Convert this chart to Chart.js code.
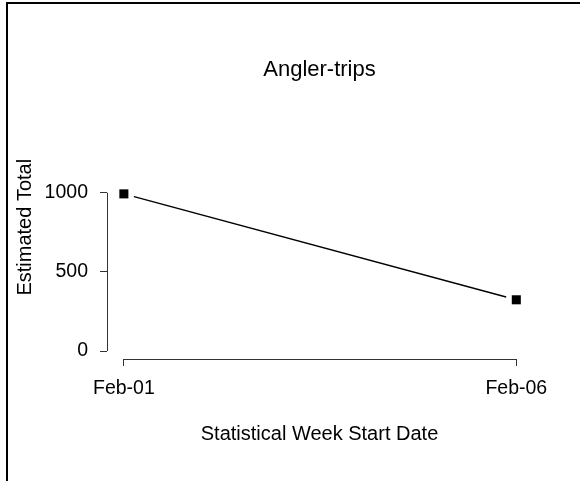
<!DOCTYPE html>
<html>
<head>
<meta charset="utf-8">
<script src="https://cdn.jsdelivr.net/npm/chart.js@4.4.1/dist/chart.umd.min.js"></script>
<style>
  body { margin: 0; background: #fff; }
  #wrap { position: relative; width: 580px; height: 481px; overflow: hidden; }
  #frame {
    position: absolute; left: 6px; top: 2px; width: 600px; height: 500px;
    border-left: 2px solid #000; border-top: 2px solid #000;
    pointer-events: none;
  }
  canvas { position: absolute; left: 0; top: 0; }
</style>
</head>
<body>
<div id="wrap">
  <canvas id="tripsChart" width="580" height="481"></canvas>
  <div id="frame"></div>
</div>
<script>
const weekLabels = ["Feb-01", "Feb-06"];
const anglerTrips = [993, 324];
const yTicks = [0, 500, 1000];

const FONT = "'Liberation Sans', Arial, Helvetica, sans-serif";
const AXIS_COLOR = "#333";

// R-style axis lines: only run between first and last tick
const rAxisLines = {
  id: "rAxisLines",
  afterDraw(chart) {
    const { ctx, chartArea, scales } = chart;
    const x = scales.x, y = scales.y;
    ctx.save();
    ctx.strokeStyle = AXIS_COLOR;
    ctx.lineWidth = 1;
    ctx.beginPath();
    ctx.moveTo(chartArea.left + 0.5, y.getPixelForValue(yTicks[0]));
    ctx.lineTo(chartArea.left + 0.5, y.getPixelForValue(yTicks[yTicks.length - 1]));
    ctx.moveTo(x.getPixelForValue(0), chartArea.bottom + 0.5);
    ctx.lineTo(x.getPixelForValue(weekLabels.length - 1), chartArea.bottom + 0.5);
    ctx.stroke();
    ctx.restore();
  }
};

const points = anglerTrips.map((v, i) => ({ x: i, y: v }));

new Chart(document.getElementById("tripsChart"), {
  type: "line",
  data: {
    datasets: [
      {
        // markers, drawn on top
        data: points,
        showLine: false,
        pointStyle: "rect",
        pointRadius: 6.4,
        pointBackgroundColor: "#000",
        pointBorderWidth: 0,
        clip: false
      },
      {
        // connecting line with white gaps around the markers
        data: points,
        borderColor: "#000",
        borderWidth: 1.4,
        pointStyle: "circle",
        pointRadius: 10.5,
        pointBackgroundColor: "#fff",
        pointBorderWidth: 0,
        clip: false
      }
    ]
  },
  plugins: [rAxisLines],
  options: {
    responsive: false,
    animation: false,
    layout: { padding: { left: 0, right: 48, top: 0, bottom: 0 } },
    plugins: {
      legend: { display: false },
      tooltip: { enabled: false },
      title: {
        display: true,
        text: "Angler-trips",
        fullSize: false,
        color: "#000",
        font: { family: FONT, size: 22, weight: "normal" },
        padding: { top: 57, bottom: 12 }
      }
    },
    scales: {
      x: {
        type: "linear",
        min: -0.043,
        max: 1.04,
        afterBuildTicks: s => { s.ticks = weekLabels.map((_, i) => ({ value: i })); },
        afterFit: s => { s.height = 122; },
        ticks: {
          callback: v => weekLabels[v],
          color: "#000",
          padding: 11,
          maxRotation: 0,
          font: { family: FONT, size: 19.5 }
        },
        grid: { drawOnChartArea: false, drawTicks: true, tickLength: 7, color: AXIS_COLOR },
        border: { display: false },
        title: {
          display: true,
          text: "Statistical Week Start Date",
          color: "#000",
          font: { family: FONT, size: 20 },
          padding: { top: 0, bottom: 35 }
        }
      },
      y: {
        min: -50,
        max: 1615,
        afterBuildTicks: s => { s.ticks = yTicks.map(v => ({ value: v })); },
        afterFit: s => { s.width = 107; },
        ticks: {
          callback: v => String(v),
          color: "#000",
          padding: 12,
          font: { family: FONT, size: 19.5 }
        },
        grid: { drawOnChartArea: false, drawTicks: true, tickLength: 7, color: AXIS_COLOR },
        border: { display: false },
        title: {
          display: true,
          text: "Estimated Total",
          color: "#000",
          font: { family: FONT, size: 20 },
          padding: { top: 13, bottom: 0 }
        }
      }
    }
  }
});
</script>
</body>
</html>
